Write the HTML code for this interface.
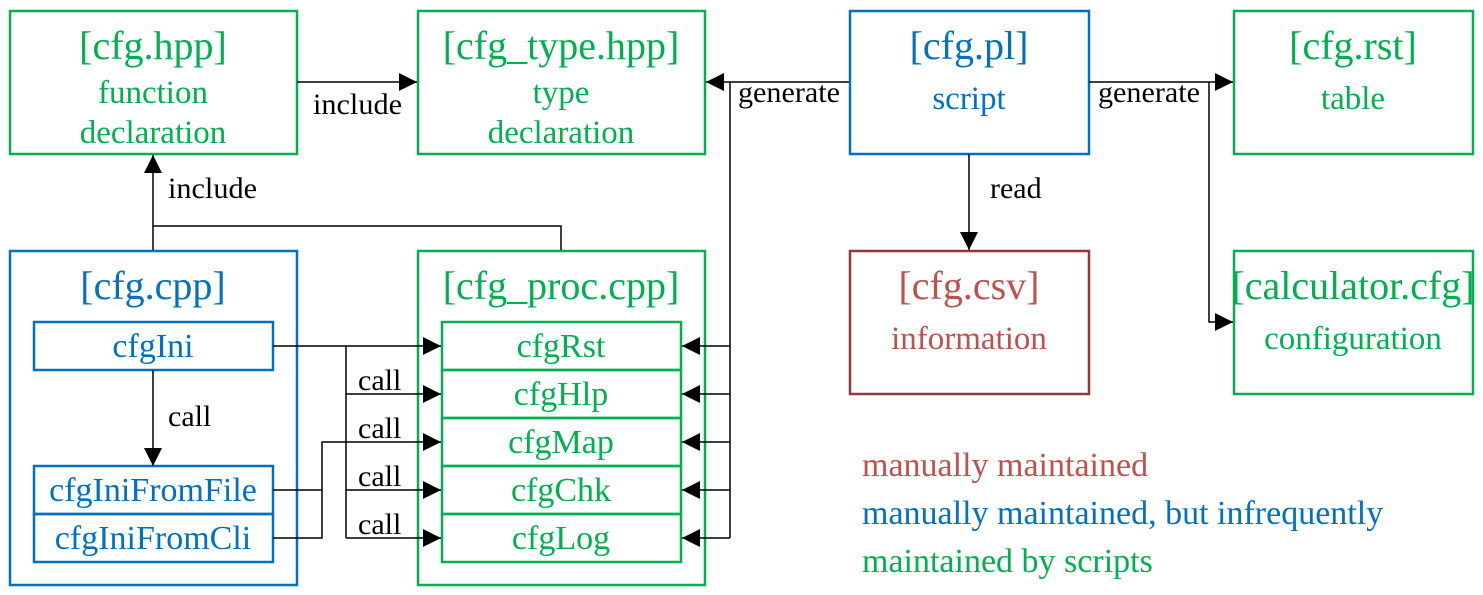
<!DOCTYPE html>
<html><head><meta charset="utf-8"><style>
html,body{margin:0;padding:0;background:#fff}
svg{display:block}
text{font-family:"Liberation Serif",serif}
</style></head><body>
<svg width="1483" height="595" viewBox="0 0 1483 595" xmlns="http://www.w3.org/2000/svg">
<defs>
<marker id="a" viewBox="0 0 10 10" refX="10" refY="5" markerWidth="20" markerHeight="18" markerUnits="userSpaceOnUse" orient="auto">
<path d="M0,0 L10,5 L0,10 z" fill="#000"/></marker>
</defs>
<g fill="none" stroke-width="2.5">
<rect x="10" y="11" width="287" height="143" stroke="#00b050"/>
<rect x="418" y="11" width="287" height="143" stroke="#00b050"/>
<rect x="850" y="11" width="239" height="143" stroke="#0070c0"/>
<rect x="1234" y="11" width="239" height="143" stroke="#00b050"/>
<rect x="10" y="251" width="287" height="334" stroke="#0070c0"/>
<rect x="418" y="251" width="287" height="334" stroke="#00b050"/>
<rect x="850" y="251" width="239" height="143" stroke="#953735"/>
<rect x="1234" y="251" width="239" height="143" stroke="#00b050"/>
<rect x="34" y="322" width="239" height="48" stroke="#0070c0"/>
<rect x="34" y="466" width="239" height="48" stroke="#0070c0"/>
<rect x="34" y="514" width="239" height="48" stroke="#0070c0"/>
<rect x="442" y="322" width="239" height="48" stroke="#00b050"/>
<rect x="442" y="370" width="239" height="48" stroke="#00b050"/>
<rect x="442" y="418" width="239" height="48" stroke="#00b050"/>
<rect x="442" y="466" width="239" height="48" stroke="#00b050"/>
<rect x="442" y="514" width="239" height="48" stroke="#00b050"/>
</g>
<g fill="none" stroke="#000" stroke-width="1.5">
<path d="M297,82 H417" marker-end="url(#a)"/>
<path d="M153,250 V155" marker-end="url(#a)"/>
<path d="M153,226 H561 V250"/>
<path d="M849,82 H706" marker-end="url(#a)"/>
<path d="M730,82 V538"/>
<path d="M730,346 H682" marker-end="url(#a)"/>
<path d="M730,394 H682" marker-end="url(#a)"/>
<path d="M730,442 H682" marker-end="url(#a)"/>
<path d="M730,490 H682" marker-end="url(#a)"/>
<path d="M730,538 H682" marker-end="url(#a)"/>
<path d="M1089,82 H1233" marker-end="url(#a)"/>
<path d="M1209,82 V322 H1233" marker-end="url(#a)"/>
<path d="M969,154 V250" marker-end="url(#a)"/>
<path d="M153,370 V466" marker-end="url(#a)"/>
<path d="M273,346 H441" marker-end="url(#a)"/>
<path d="M346,346 V538"/>
<path d="M346,394 H441" marker-end="url(#a)"/>
<path d="M346,490 H441" marker-end="url(#a)"/>
<path d="M346,538 H441" marker-end="url(#a)"/>
<path d="M273,490 H322"/>
<path d="M273,538 H322 V442 H441" marker-end="url(#a)"/>
</g>
<g font-size="30" fill="#000">
<text x="313" y="114" textLength="89" lengthAdjust="spacingAndGlyphs">include</text>
<text x="168" y="198" textLength="89" lengthAdjust="spacingAndGlyphs">include</text>
<text x="738" y="102" textLength="102" lengthAdjust="spacingAndGlyphs">generate</text>
<text x="1098" y="102" textLength="102" lengthAdjust="spacingAndGlyphs">generate</text>
<text x="990" y="198">read</text>
<text x="168" y="426">call</text>
<text x="358" y="390">call</text>
<text x="358" y="438">call</text>
<text x="358" y="486">call</text>
<text x="358" y="534">call</text>
</g>
<g text-anchor="middle" fill="#00b050">
<text x="153" y="59" font-size="40">[cfg.hpp]</text>
<text x="153" y="103" font-size="33">function</text>
<text x="153" y="143" font-size="33">declaration</text>
<text x="561" y="59" font-size="40">[cfg_type.hpp]</text>
<text x="561" y="103" font-size="33">type</text>
<text x="561" y="143" font-size="33">declaration</text>
<text x="1353" y="59" font-size="40">[cfg.rst]</text>
<text x="1353" y="109" font-size="33">table</text>
<text x="561" y="299" font-size="40">[cfg_proc.cpp]</text>
<text x="1353" y="299" font-size="40">[calculator.cfg]</text>
<text x="1353" y="349" font-size="33">configuration</text>
<g font-size="34">
<text x="561" y="357">cfgRst</text>
<text x="561" y="405">cfgHlp</text>
<text x="561" y="453">cfgMap</text>
<text x="561" y="501">cfgChk</text>
<text x="561" y="549">cfgLog</text>
</g>
</g>
<g text-anchor="middle" fill="#0070c0">
<text x="969" y="59" font-size="40">[cfg.pl]</text>
<text x="969" y="109" font-size="33">script</text>
<text x="153" y="299" font-size="40">[cfg.cpp]</text>
<g font-size="34">
<text x="153" y="357">cfgIni</text>
<text x="153" y="501">cfgIniFromFile</text>
<text x="153" y="549">cfgIniFromCli</text>
</g>
</g>
<g text-anchor="middle" fill="#c0504d">
<text x="969" y="299" font-size="40">[cfg.csv]</text>
<text x="969" y="349" font-size="33">information</text>
</g>
<g font-size="34">
<text x="862" y="476" fill="#c0504d">manually maintained</text>
<text x="862" y="524" fill="#0070c0">manually maintained, but infrequently</text>
<text x="862" y="572" fill="#00b050">maintained by scripts</text>
</g>
</svg>
</body></html>
